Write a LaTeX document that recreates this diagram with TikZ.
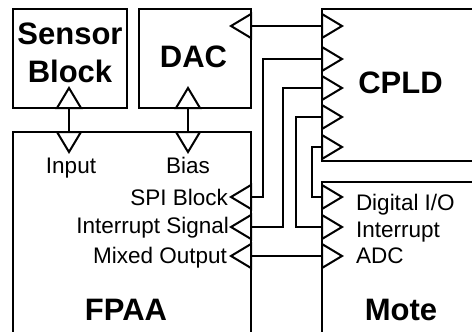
\documentclass[tikz,border=0pt]{standalone}
\usepackage{fontspec}
\setmainfont{Liberation Sans}
\begin{document}
\begin{tikzpicture}[x=1pt,y=-1pt,line width=2pt,
  box/.style={draw,line width=2pt,rectangle,inner sep=0pt},
  title/.style={font=\fontsize{31}{37}\selectfont\bfseries,inner sep=0pt,anchor=base},
  lbl/.style={font=\fontsize{22.5}{26}\selectfont,inner sep=0pt},
  wire/.style={line width=2pt},
  portR/.pic={\draw[line width=2pt] (0,-12) -- (20,0) -- (0,12) -- cycle;},
  portL/.pic={\draw[line width=2pt] (0,-12) -- (-20,0) -- (0,12) -- cycle;},
  portU/.pic={\draw[line width=2pt] (-12,0) -- (0,-20) -- (12,0) -- cycle;},
  portD/.pic={\draw[line width=2pt] (-12,0) -- (0,20) -- (12,0) -- cycle;}]
\useasboundingbox (0,0) rectangle (472,332);
\clip (0,0) rectangle (472,332);
% boxes
\node[box,minimum width=114pt,minimum height=99pt] (sensor) at (70,58.5) {};
\node[box,minimum width=112pt,minimum height=99pt] (dac) at (195,58.5) {};
\node[box,minimum width=198pt,minimum height=152pt] (cpld) at (421,85) {};
\node[box,minimum width=238pt,minimum height=228pt] (fpaa) at (132,246) {};
\node[box,minimum width=198pt,minimum height=178pt] (mote) at (421,271) {};
% titles
\node[title] (tSensor) at (70,45) {Sensor};
\node[title] (tBlock) at (70,82) {Block};
\node[title] (tDac) at (193.5,67) {DAC};
\node[title] (tCpld) at (400.5,93) {CPLD};
\node[title] (tFpaa) at (126,320) {FPAA};
\node[title] (tMote) at (401,320) {Mote};
% port coordinates
\coordinate (sensorP) at (69,108);
\coordinate (fpaaIn) at (69,132);
\coordinate (dacP) at (188,108);
\coordinate (fpaaBias) at (188,132);
\coordinate (dacR) at (251,26);
\coordinate (cpld1) at (322,26);
\coordinate (cpld2) at (322,59);
\coordinate (cpld3) at (322,88);
\coordinate (cpld4) at (322,117);
\coordinate (cpld5) at (322,147);
\coordinate (fpaaSPI) at (251,197);
\coordinate (fpaaInt) at (251,227);
\coordinate (fpaaMix) at (251,256);
\coordinate (moteDIO) at (322,197);
\coordinate (moteInt) at (322,227);
\coordinate (moteADC) at (322,256);
% triangles
\pic at (sensorP) {portU};
\pic at (fpaaIn) {portD};
\pic at (dacP) {portU};
\pic at (fpaaBias) {portD};
\pic at (dacR) {portL};
\foreach \p in {cpld1,cpld2,cpld3,cpld4,cpld5,moteDIO,moteInt,moteADC} {\pic at (\p) {portR};}
\foreach \p in {fpaaSPI,fpaaInt,fpaaMix} {\pic at (\p) {portL};}
% wires
\draw[wire] (sensorP) -- (fpaaIn);
\draw[wire] (dacP) -- (fpaaBias);
\draw[wire] (dacR) -- (cpld1);
\draw[wire] (cpld2) -- ++(-59,0) |- (fpaaSPI);
\draw[wire] (cpld3) -- ++(-39,0) |- (fpaaInt);
\draw[wire] (cpld4) -- ++(-26,0) |- (moteInt);
\draw[wire] (cpld5) -- ++(-10,0) |- (moteDIO);
\draw[wire] (fpaaMix) -- (moteADC);
% labels
\node[lbl,anchor=base] (lInput) at (71,173) {Input};
\node[lbl,anchor=base] (lBias) at (188,173) {Bias};
\node[lbl,anchor=base east] (lSPI) at (229,205) {SPI Block};
\node[lbl,anchor=base east] (lIntS) at (230,233) {Interrupt Signal};
\node[lbl,anchor=base east] (lMix) at (228,263) {Mixed Output};
\node[lbl,anchor=base west] (lDIO) at (355,210) {Digital I/O};
\node[lbl,anchor=base west] (lInt) at (355,237) {Interrupt};
\node[lbl,anchor=base west] (lADC) at (355,263) {ADC};
\end{tikzpicture}
\end{document}
